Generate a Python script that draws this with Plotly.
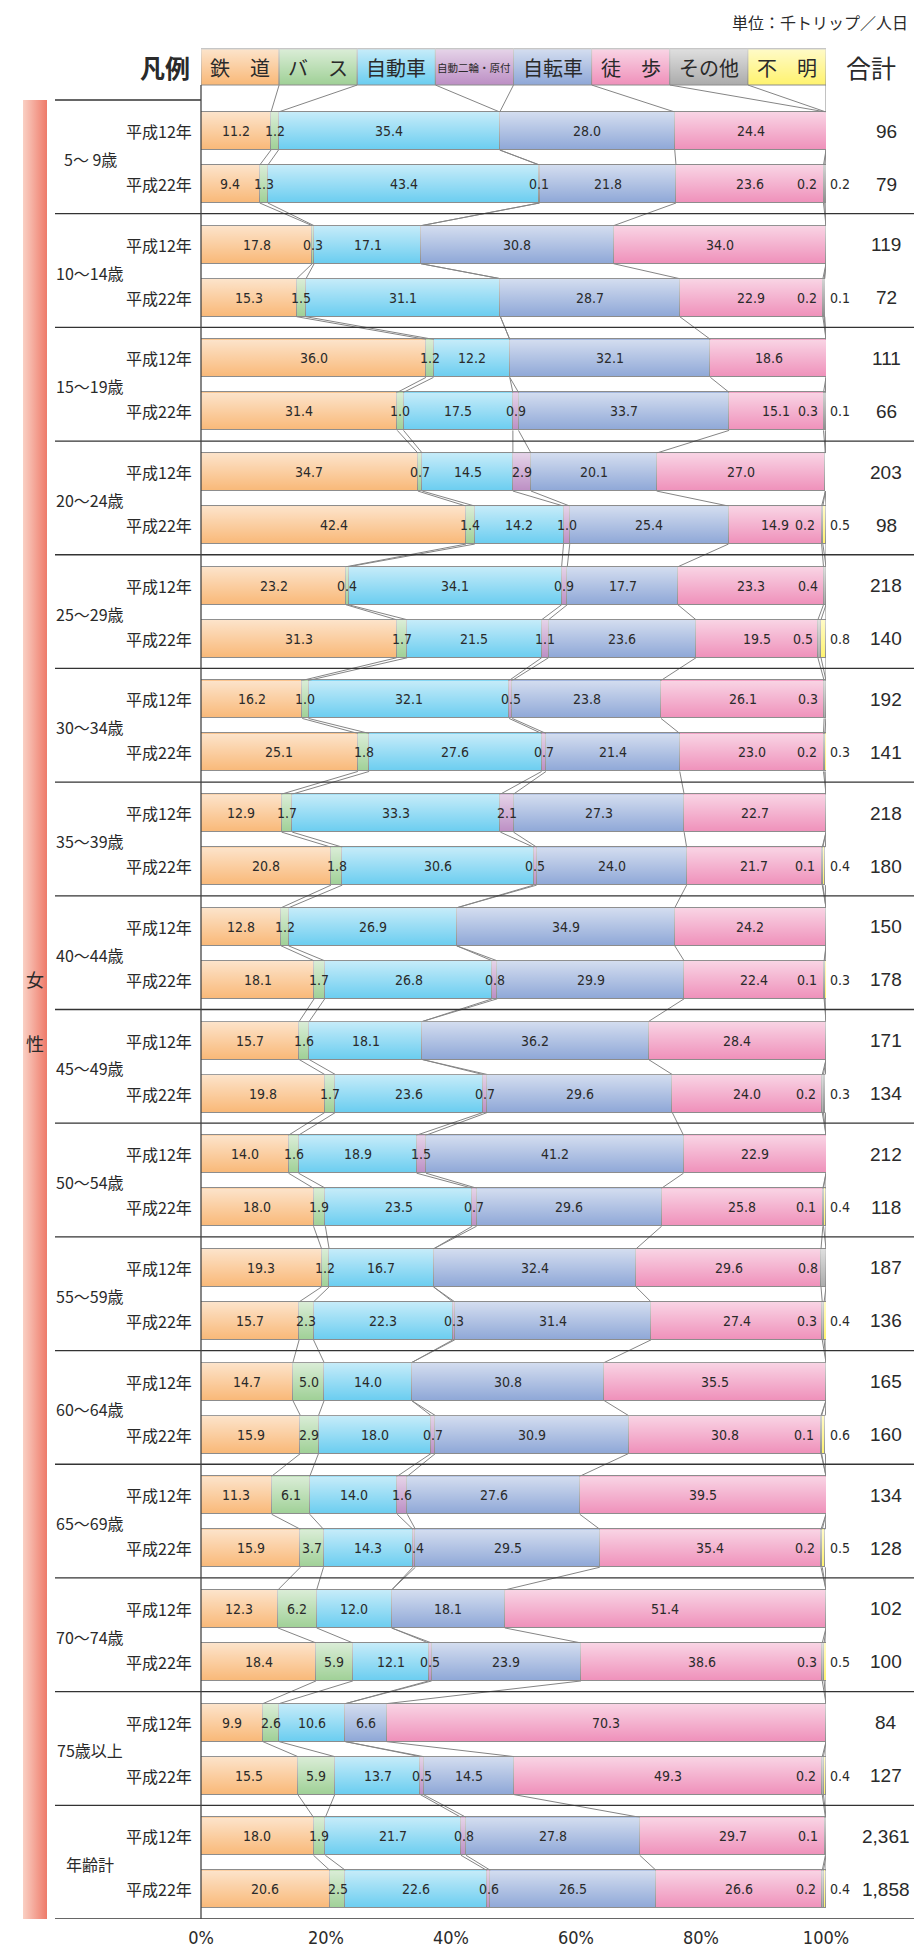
import base64
import plotly.graph_objects as go

# ---------------- data ----------------
age_groups = ["5～ 9歳", "10～14歳", "15～19歳", "20～24歳", "25～29歳", "30～34歳",
              "35～39歳", "40～44歳", "45～49歳", "50～54歳", "55～59歳", "60～64歳",
              "65～69歳", "70～74歳", "75歳以上", "年齢計"]
years = ["平成12年", "平成22年"]
categories = ["鉄　道", "バ　ス", "自動車", "自動二輪・原付", "自転車", "徒　歩", "その他", "不　明"]

# rows: for each age group, 平成12年 then 平成22年 (shares, %)
rail = [11.2, 9.4, 17.8, 15.3, 36.0, 31.4, 34.7, 42.4, 23.2, 31.3, 16.2, 25.1, 12.9, 20.8, 12.8, 18.1,
        15.7, 19.8, 14.0, 18.0, 19.3, 15.7, 14.7, 15.9, 11.3, 15.9, 12.3, 18.4, 9.9, 15.5, 18.0, 20.6]
bus = [1.2, 1.3, 0.3, 1.5, 1.2, 1.0, 0.7, 1.4, 0.4, 1.7, 1.0, 1.8, 1.7, 1.8, 1.2, 1.7,
       1.6, 1.7, 1.6, 1.9, 1.2, 2.3, 5.0, 2.9, 6.1, 3.7, 6.2, 5.9, 2.6, 5.9, 1.9, 2.5]
car = [35.4, 43.4, 17.1, 31.1, 12.2, 17.5, 14.5, 14.2, 34.1, 21.5, 32.1, 27.6, 33.3, 30.6, 26.9, 26.8,
       18.1, 23.6, 18.9, 23.5, 16.7, 22.3, 14.0, 18.0, 14.0, 14.3, 12.0, 12.1, 10.6, 13.7, 21.7, 22.6]
moto = [0, 0.1, 0, 0, 0, 0.9, 2.9, 1.0, 0.9, 1.1, 0.5, 0.7, 2.1, 0.5, 0, 0.8,
        0, 0.7, 1.5, 0.7, 0, 0.3, 0, 0.7, 1.6, 0.4, 0, 0.5, 0, 0.5, 0.8, 0.6]
bike = [28.0, 21.8, 30.8, 28.7, 32.1, 33.7, 20.1, 25.4, 17.7, 23.6, 23.8, 21.4, 27.3, 24.0, 34.9, 29.9,
        36.2, 29.6, 41.2, 29.6, 32.4, 31.4, 30.8, 30.9, 27.6, 29.5, 18.1, 23.9, 6.6, 14.5, 27.8, 26.5]
walk = [24.4, 23.6, 34.0, 22.9, 18.6, 15.1, 27.0, 14.9, 23.3, 19.5, 26.1, 23.0, 22.7, 21.7, 24.2, 22.4,
        28.4, 24.0, 22.9, 25.8, 29.6, 27.4, 35.5, 30.8, 39.5, 35.4, 51.4, 38.6, 70.3, 49.3, 29.7, 26.6]
other = [0, 0.2, 0, 0.2, 0, 0.3, 0, 0.2, 0.4, 0.5, 0.3, 0.2, 0, 0.1, 0, 0.1,
         0, 0.2, 0, 0.1, 0.8, 0.3, 0, 0.1, 0, 0.2, 0, 0.3, 0, 0.2, 0.1, 0.2]
unknown = [0, 0.2, 0, 0.1, 0, 0.1, 0, 0.5, 0, 0.8, 0, 0.3, 0, 0.4, 0, 0.3,
           0, 0.3, 0, 0.4, 0, 0.4, 0, 0.6, 0, 0.5, 0, 0.5, 0, 0.4, 0, 0.4]
totals = [96, 79, 119, 72, 111, 66, 203, 98, 218, 140, 192, 141, 218, 180, 150, 178,
          171, 134, 212, 118, 187, 136, 165, 160, 134, 128, 102, 100, 84, 127, 2361, 1858]
x_ticks = [0, 20, 40, 60, 80, 100]
x_ticktext = ["0%", "20%", "40%", "60%", "80%", "100%"]

series = [rail, bus, car, moto, bike, walk, other, unknown]

# ---------------- style / layout ----------------
W, H = 914, 1948
colors = ["#F9B877", "#9FD096", "#6ACDF0", "#BC8EC4", "#8EA7D7", "#EF90BA", "#ABABAB", "#FFF36E"]
outline = "#8c8c8c"
JP = "Noto Sans CJK JP, sans-serif"
NUM = "Liberation Sans Narrow, DejaVu Sans Condensed, Liberation Sans, sans-serif"
TXT = "#2a2a2a"

X0, X1 = 201, 826          # pixel extent of 0%..100%
Y_BOTTOM = 1919            # bottom rule
GT = 100                   # top of first group
GH = (Y_BOTTOM - GT) / len(age_groups)
BAR_H = 38
LEG_T, LEG_B = 49, 85


def px(xp):
    return xp / W


n_rows = len(rail)
centers = []
for i in range(n_rows):
    g, yr = divmod(i, 2)
    centers.append(GT + g * GH + (31 if yr == 0 else 84))

fig = go.Figure()

for k, cat in enumerate(categories):
    vals = series[k]
    fig.add_trace(go.Bar(
        x=[v if v > 0 else None for v in vals], y=centers, orientation="h",
        width=BAR_H, name=cat, showlegend=False, hoverinfo="skip",
        marker=dict(color=colors[k], line=dict(color=outline, width=1)),
    ))

# cumulative boundaries
cums = []
for i in range(n_rows):
    c, row = 0.0, []
    for k in range(len(categories)):
        c += series[k][i]
        row.append(min(c, 100.0))
    cums.append(row)

# connector lines
lx, ly = [], []
for k in range(len(categories)):
    lx += [12.5 * (k + 1), cums[0][k], None]
    ly += [LEG_B, centers[0] - BAR_H / 2, None]
for i in range(n_rows - 1):
    for k in range(len(categories)):
        lx += [cums[i][k], cums[i + 1][k], None]
        ly += [centers[i] + BAR_H / 2, centers[i + 1] - BAR_H / 2, None]
fig.add_trace(go.Scatter(x=lx, y=ly, mode="lines", line=dict(color="#858585", width=1),
                         showlegend=False, hoverinfo="skip", cliponaxis=False))


# gradient overlays
def svg_uri(svg):
    return "data:image/svg+xml;base64," + base64.b64encode(svg.encode()).decode()


vgrad = svg_uri(
    '<svg xmlns="http://www.w3.org/2000/svg" width="100" height="100" viewBox="0 0 100 100" preserveAspectRatio="none">'
    '<defs><linearGradient id="g" x1="0" y1="0" x2="0" y2="1">'
    '<stop offset="0" stop-color="#ffffff" stop-opacity="0.62"/>'
    '<stop offset="1" stop-color="#ffffff" stop-opacity="0"/></linearGradient></defs>'
    '<rect x="0" y="0" width="100" height="100" fill="url(#g)"/></svg>')
hgrad = svg_uri(
    '<svg xmlns="http://www.w3.org/2000/svg" width="100" height="100" viewBox="0 0 100 100" preserveAspectRatio="none">'
    '<defs><linearGradient id="h" x1="0" y1="0" x2="1" y2="0">'
    '<stop offset="0" stop-color="#FAD0C4"/><stop offset="1" stop-color="#EE7A69"/></linearGradient></defs>'
    '<rect x="0" y="0" width="100" height="100" fill="url(#h)"/></svg>')

images = []
for c in centers:
    images.append(dict(source=vgrad, xref="x", yref="y", x=0, y=c - BAR_H / 2, sizex=100, sizey=BAR_H,
                       sizing="stretch", xanchor="left", yanchor="top", layer="above"))
images.append(dict(source=vgrad, xref="x", yref="y", x=0, y=LEG_T, sizex=100, sizey=LEG_B - LEG_T,
                   sizing="stretch", xanchor="left", yanchor="top", layer="above"))
images.append(dict(source=hgrad, xref="paper", yref="y", x=px(23), y=GT, sizex=px(47) - px(23),
                   sizey=Y_BOTTOM - GT, sizing="stretch", xanchor="left", yanchor="top", layer="below"))

shapes = []
# legend boxes
for k, cat in enumerate(categories):
    shapes.append(dict(type="rect", xref="x", yref="y", x0=12.5 * k, x1=12.5 * (k + 1), y0=LEG_T, y1=LEG_B,
                       fillcolor=colors[k], line=dict(color=outline, width=1), layer="below"))
# group rules
shapes.append(dict(type="line", xref="paper", yref="y", x0=px(55), x1=px(X0), y0=GT, y1=GT,
                   line=dict(color="#333333", width=1.3)))
for g in range(1, len(age_groups) + 1):
    yy = GT + g * GH
    shapes.append(dict(type="line", xref="paper", yref="y", x0=px(55), x1=1, y0=yy, y1=yy,
                       line=dict(color="#333333", width=1.3)))
# 0% axis line
shapes.append(dict(type="line", xref="paper", yref="y", x0=px(X0), x1=px(X0), y0=LEG_B, y1=Y_BOTTOM,
                   line=dict(color="#444444", width=1.3)))


def label(x, y, text, size, family=JP, anchor="center", xref="paper"):
    return dict(x=x, y=y, xref=xref, yref="y", text=text, showarrow=False, xanchor=anchor,
                yanchor="middle", font=dict(family=family, size=size, color=TXT))


ann = []
# legend texts
for k, cat in enumerate(categories):
    small = len(cat) > 4
    ann.append(label(12.5 * k + 6.25, (LEG_T + LEG_B) / 2, cat, 10.5 if small else 20, xref="x"))
ann.append(label(px(192), 67, "<b>凡例</b>", 25, anchor="right"))
ann.append(label(px(871), 67, "合計", 25))
ann.append(label(px(910), 22, "単位：千トリップ／人日", 16, anchor="right"))
# left band text
mid = (GT + Y_BOTTOM) / 2
ann.append(label(px(35), mid - 31, "女", 18))
ann.append(label(px(35), mid + 33, "性", 18))
# age groups
for g, name in enumerate(age_groups):
    ann.append(label(px(90), GT + g * GH + GH / 2 + 2, name, 16))
# rows
for i in range(n_rows):
    c = centers[i]
    ann.append(label(px(194), c, years[i % 2], 16, anchor="right"))
    ann.append(label(px(886), c, f"{totals[i]:,}", 19, family="Liberation Sans, sans-serif"))
    start = 0.0
    for k in range(6):
        v = series[k][i]
        if v > 0:
            ann.append(label(start + v / 2, c, f"{v:.1f}", 14, family=NUM, xref="x"))
        start += v
    if other[i] > 0:
        ann.append(label(min(start + other[i], 100) - 0.9, c, f"{other[i]:.1f}", 14, family=NUM,
                         anchor="right", xref="x"))
    if unknown[i] > 0:
        ann.append(label(px(X1 + 2), c, f"{unknown[i]:.1f}", 14, family=NUM, anchor="left"))

fig.update_layout(
    width=W, height=H, autosize=False, margin=dict(l=0, r=0, t=0, b=0, pad=0),
    paper_bgcolor="white", plot_bgcolor="rgba(0,0,0,0)",
    barmode="stack", bargap=0,
    xaxis=dict(domain=[px(X0), px(X1)], range=[0, 100], showgrid=False, zeroline=False, showline=False,
               tickvals=x_ticks, ticktext=x_ticktext, ticks="", ticklabelstandoff=6, automargin=False,
               tickfont=dict(family=NUM, size=18, color=TXT), fixedrange=True),
    yaxis=dict(domain=[(H - Y_BOTTOM) / H, 1], range=[Y_BOTTOM, 0], visible=False, fixedrange=True,
               automargin=False),
    shapes=shapes, annotations=ann, images=images, showlegend=False,
)

fig.write_html("out.html", config={"responsive": False})
